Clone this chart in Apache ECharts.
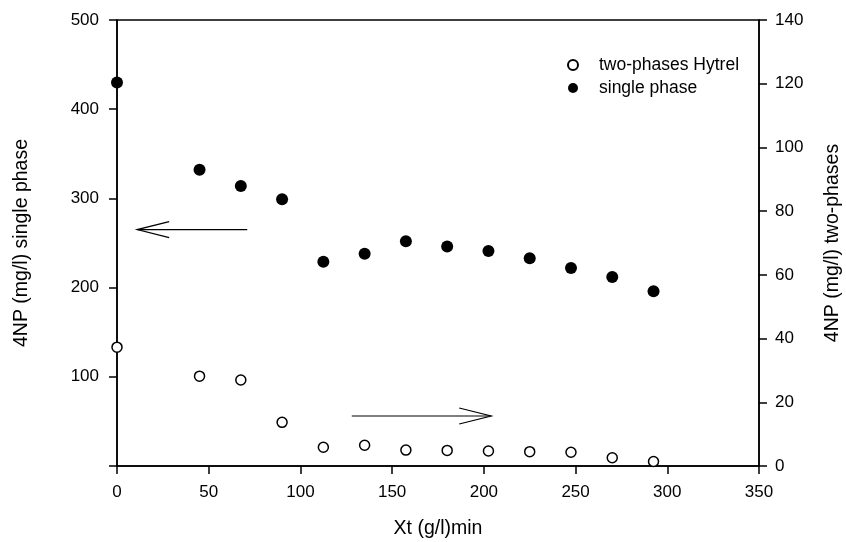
<!DOCTYPE html>
<html>
<head>
<meta charset="utf-8">
<script src="https://cdn.jsdelivr.net/npm/echarts@6/dist/echarts.min.js"></script>
<style>
  html, body { margin: 0; padding: 0; background: #fff; }
  #chart { width: 846px; height: 542px; }
</style>
</head>
<body>
<div id="chart"></div>
<script>
// x values, Xt (g/l)min
var xt = [0, 45, 67.5, 90, 112.5, 135, 157.5, 180, 202.5, 225, 247.5, 270, 292.5];
// single phase, left axis
var singlePhase = [430, 332, 314, 299, 229, 238, 252, 246, 241, 233, 222, 212, 196];
// two-phases Hytrel, right axis
var twoPhases = [37.3, 28.2, 27.0, 13.7, 5.9, 6.5, 5.0, 4.9, 4.7, 4.5, 4.3, 2.6, 1.4];

var xTicks = [0, 350, 50];
var leftTicks = [0, 500, 100];
var rightTicks = [0, 140, 20];

function pairs(xs, ys) {
    var out = [];
    for (var i = 0; i < xs.length; i++) out.push([xs[i], ys[i]]);
    return out;
}

var font = '"Liberation Sans", Arial, sans-serif';
var chart = echarts.init(document.getElementById('chart'));

var axisCommon = {
    axisLine: { show: true, onZero: false, lineStyle: { color: '#000', width: 1.5 } },
    axisTick: { show: true, inside: false, length: 8, lineStyle: { color: '#000', width: 1.5 } },
    splitLine: { show: false },
    nameLocation: 'middle',
    nameTextStyle: { color: '#000', fontSize: 19.5, fontFamily: font }
};

var option = {
    animation: false,
    backgroundColor: '#fff',
    grid: {
        left: 117, right: 87, top: 20, bottom: 76,
        containLabel: false,
        outerBoundsMode: 'none',
        show: true, borderColor: '#000', borderWidth: 1.5
    },
    legend: {
        orient: 'vertical',
        left: 562, top: 51,
        itemWidth: 10, itemHeight: 10, itemGap: 5,
        textStyle: { color: '#000', fontSize: 17.5, fontFamily: font, padding: [0, 0, 0, 16] },
        data: ['two-phases Hytrel', 'single phase']
    },
    xAxis: Object.assign({}, axisCommon, {
        type: 'value',
        min: xTicks[0], max: xTicks[1], interval: xTicks[2],
        name: 'Xt (g/l)min', nameGap: 53,
        axisLabel: { color: '#000', fontSize: 17, fontFamily: font, margin: 18 }
    }),
    yAxis: [
        Object.assign({}, axisCommon, {
            type: 'value', position: 'left',
            min: leftTicks[0], max: leftTicks[1], interval: leftTicks[2],
            name: '4NP (mg/l) single phase', nameGap: 85,
            axisLabel: {
                color: '#000', fontSize: 17, fontFamily: font, margin: 18,
                formatter: function(v) { return v === 0 ? '' : v; }
            }
        }),
        Object.assign({}, axisCommon, {
            type: 'value', position: 'right',
            min: rightTicks[0], max: rightTicks[1], interval: rightTicks[2],
            name: '4NP (mg/l) two-phases', nameGap: 64,
            axisLabel: { color: '#000', fontSize: 17, fontFamily: font, margin: 16 }
        })
    ],
    series: [
        {
            name: 'two-phases Hytrel',
            type: 'scatter',
            yAxisIndex: 1,
            symbol: 'circle',
            symbolSize: 10,
            itemStyle: { color: '#fff', borderColor: '#000', borderWidth: 1.5, opacity: 1 },
            data: pairs(xt, twoPhases)
        },
        {
            name: 'single phase',
            type: 'scatter',
            yAxisIndex: 0,
            symbol: 'circle',
            symbolSize: 12,
            itemStyle: { color: '#000', opacity: 1 },
            data: pairs(xt, singlePhase)
        }
    ]
};
chart.setOption(option);

// arrows pointing at the axis each series belongs to
function arrow(from, to, axisIdx) {
    var a = chart.convertToPixel({ xAxisIndex: 0, yAxisIndex: axisIdx }, from);
    var b = chart.convertToPixel({ xAxisIndex: 0, yAxisIndex: axisIdx }, to);
    var dir = b[0] > a[0] ? -1 : 1;
    var style = { stroke: '#000', lineWidth: 1.2, fill: null };
    return [
        { type: 'polyline', shape: { points: [a, b] }, style: style },
        { type: 'polyline', shape: { points: [[b[0] + dir * 32, b[1] - 8], b, [b[0] + dir * 32, b[1] + 8]] }, style: style }
    ];
}
chart.setOption({
    graphic: arrow([71, 265], [11, 265], 0).concat(arrow([128, 15.7], [204, 15.7], 1))
});
</script>
</body>
</html>
